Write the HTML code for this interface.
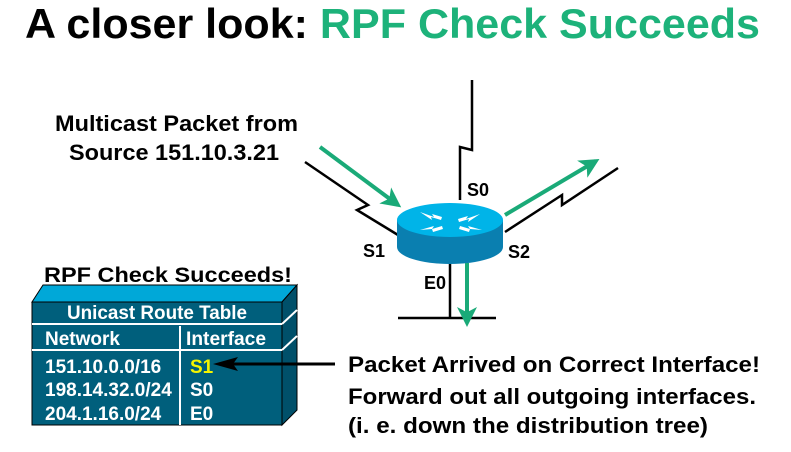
<!DOCTYPE html>
<html><head><meta charset="utf-8"><style>
body{margin:0;width:791px;height:447px;background:#fff;overflow:hidden;font-family:"Liberation Sans",Arial,sans-serif}
svg text{font-family:"Liberation Sans",Arial,sans-serif;font-weight:bold}
</style></head><body>
<svg width="791" height="447" viewBox="0 0 791 447">
<defs>
<marker id="ga" markerWidth="5" markerHeight="5" refX="4" refY="2.5" orient="auto" markerUnits="strokeWidth"><path d="M0,0 L5,2.5 L0,5 L1.3,2.5z" fill="#1aaa78"/></marker>
</defs>
<text x="25" y="38" font-size="42" fill="#000" textLength="735" lengthAdjust="spacingAndGlyphs">A closer look: <tspan fill="#1db27a">RPF Check Succeeds</tspan></text>
<text x="55" y="131" font-size="22" textLength="243" lengthAdjust="spacingAndGlyphs">Multicast Packet from</text>
<text x="69" y="160" font-size="22" textLength="210" lengthAdjust="spacingAndGlyphs">Source 151.10.3.21</text>
<g stroke="#000" stroke-width="2.5" fill="none">
<polyline points="305,162 368,205 357,210 398,235"/>
<polyline points="472,80 472,150 460,147 460,200"/>
<polyline points="618,168 562,205 562,195 505,232"/>
<polyline points="450,262 450,318"/>
<line x1="398" y1="318" x2="496" y2="318"/>
</g>
<path d="M397,220 L397,247 A53,17 0 0 0 503,247 L503,220 Z" fill="#0a7fb0"/>
<ellipse cx="450" cy="220" rx="53" ry="17" fill="#00b4e8"/>
<g fill="#fff">
<path d="M420,212 l14,5 -2,-3 10,3 -1,3 -10,-3 1,3z"/>
<path d="M480,214 l-14,5 2,-3 -10,3 1,3 10,-3 -1,3z"/>
<path d="M420,230 l14,-4 -2,3 10,-3 1,3 -10,3 -1-3z"/>
<path d="M482,230 l-14,-4 2,3 -10,-3 -1,3 10,3 1,-3z"/>
</g>
<g stroke="#1aaa78" stroke-width="4" fill="none">
<line x1="320" y1="147" x2="398" y2="205" marker-end="url(#ga)"/>
<line x1="505" y1="215" x2="596" y2="161" marker-end="url(#ga)"/>
<line x1="467" y1="263" x2="467" y2="323" marker-end="url(#ga)"/>
</g>
<text x="467" y="196" font-size="18">S0</text>
<text x="363" y="257" font-size="18">S1</text>
<text x="508" y="258" font-size="18">S2</text>
<text x="424" y="289" font-size="18">E0</text>
<text x="44" y="282" font-size="21" textLength="248" lengthAdjust="spacingAndGlyphs">RPF Check Succeeds!</text>
<polygon points="32,302 43,285 297,285 282,302" fill="#00a8d8" stroke="#000" stroke-width="1"/>
<polygon points="282,302 297,285 297,410 282,425" fill="#00506a" stroke="#000" stroke-width="1"/>
<rect x="32" y="302" width="250" height="123" fill="#005f7c" stroke="#000"/>
<g stroke="#fff" stroke-width="2"><line x1="32" y1="324" x2="282" y2="324"/><line x1="282" y1="324" x2="297" y2="310"/>
<line x1="32" y1="350" x2="282" y2="350"/><line x1="282" y1="350" x2="297" y2="336"/>
<line x1="180" y1="326" x2="180" y2="425"/></g>
<g fill="#fff" font-size="19">
<text x="67" y="319" textLength="180" lengthAdjust="spacingAndGlyphs">Unicast Route Table</text>
<text x="45" y="345">Network</text><text x="186" y="345" textLength="80" lengthAdjust="spacingAndGlyphs">Interface</text>
<text x="45" y="373">151.10.0.0/16</text>
<text x="45" y="396">198.14.32.0/24</text><text x="190" y="396">S0</text>
<text x="45" y="420">204.1.16.0/24</text><text x="190" y="420">E0</text>
</g>
<text x="190" y="373" font-size="19" fill="#f4f400">S1</text>
<line x1="222" y1="364" x2="335" y2="364" stroke="#000" stroke-width="3"/>
<path d="M213,364 L238,357 L233,364 L238,371Z" fill="#000"/>
<text x="348" y="372" font-size="22" textLength="412" lengthAdjust="spacingAndGlyphs">Packet Arrived on Correct Interface!</text>
<text x="348" y="404" font-size="22" textLength="408" lengthAdjust="spacingAndGlyphs">Forward out all outgoing interfaces.</text>
<text x="348" y="433" font-size="22" textLength="360" lengthAdjust="spacingAndGlyphs">(i. e. down the distribution tree)</text>
</svg>
</body></html>
